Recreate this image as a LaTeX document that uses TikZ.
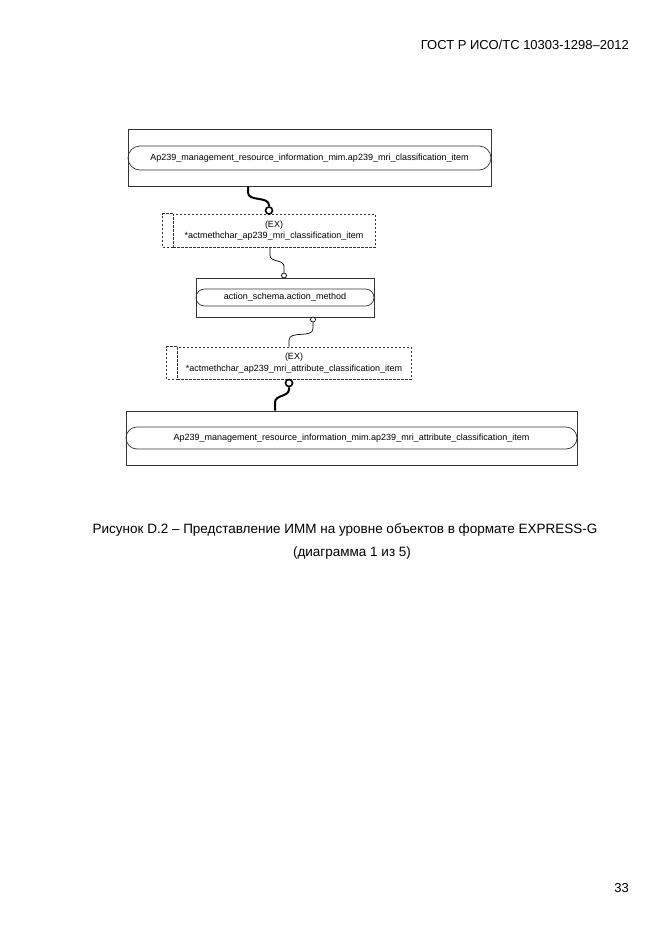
\documentclass[tikz,border=0pt]{standalone}
\usepackage{fontspec}
\setmainfont{Liberation Sans}
\usetikzlibrary{shapes.misc}
\tikzset{
    txt/.style = {inner sep=0pt, font=\fontsize{13}{15}\selectfont},
    ent_box/.style = {rectangle, draw=black!80, line width=0.8pt, inner sep=0pt},
    ent_pill/.style = {rounded rectangle, draw=black!80, line width=0.7pt, inner sep=0pt, font=\fontsize{9}{11}\selectfont},
    ref_line/.style = {draw=black!80, line width=0.7pt, dash pattern=on 2.5pt off 1.5pt},
    ref_box/.style = {rectangle, ref_line, align=center, inner sep=0pt, font=\fontsize{9}{11.5}\selectfont},
    thick_link/.style = {line width=2pt},
    thin_link/.style = {line width=0.7pt},
    big_ring/.style = {circle, draw, line width=1.6pt, inner sep=0pt, minimum size=7pt, fill=white},
    small_ring/.style = {circle, draw, line width=0.7pt, inner sep=0pt, minimum size=5pt, fill=white}
}
\begin{document}
\begin{tikzpicture}[x=1pt,y=-1pt]
    \useasboundingbox (0,0) rectangle (661,935);
    % page texts
    \node [txt, anchor=east] (head) at (629,45) {ГОСТ Р ИСО/ТС 10303-1298–2012};
    \node [txt, font=\fontsize{13.5}{15}\selectfont] (cap1) at (345,530) {Рисунок D.2 – Представление ИММ на уровне объектов в формате EXPRESS-G};
    \node [txt, font=\fontsize{13.5}{15}\selectfont] (cap2) at (352,553) {(диаграмма 1 из 5)};
    \node [txt, anchor=east] (page) at (629,888) {33};
    % entities
    \node [ent_box, minimum width=363pt, minimum height=57pt] (b1) at (309.5,157.5) {};
    \node [ent_pill, minimum width=363pt, minimum height=24pt] (p1) at (309.5,158)
        {Ap239\_management\_resource\_information\_mim.ap239\_mri\_classification\_item};
    \node [ent_box, minimum width=178pt, minimum height=39pt] (b2) at (285,297.5) {};
    \node [ent_pill, minimum width=178pt, minimum height=17pt] (p2) at (285,297.5)
        {action\_schema.action\_method};
    \node [ent_box, minimum width=451pt, minimum height=54pt] (b3) at (351.5,438) {};
    \node [ent_pill, minimum width=451pt, minimum height=22pt] (p3) at (351.5,438)
        {Ap239\_management\_resource\_information\_mim.ap239\_mri\_attribute\_classification\_item};
    % references
    \node [ref_box, minimum width=202pt, minimum height=33pt] (d1) at (274,230.5)
        {(EX)\\*actmethchar\_ap239\_mri\_classification\_item};
    \draw [ref_line] (d1.north west) -- ++(-10,0) |- (d1.south west);
    \node [ref_box, minimum width=234pt, minimum height=32pt] (d2) at (294,363)
        {(EX)\\*actmethchar\_ap239\_mri\_attribute\_classification\_item};
    \draw [ref_line] (d2.north west) -- ++(-10,0) |- (d2.south west);
    % rings
    \node [big_ring] (r1) at (269,210.5) {};
    \node [small_ring] (r2) at (284,275.5) {};
    \node [small_ring] (r3) at (313,319.5) {};
    \node [big_ring] (r4) at (289,383) {};
    % links
    \draw [thick_link] ([xshift=-61.5pt]b1.south) -- ++(0,6) to[out=-90,in=90] ++(21,13) -- (r1.north);
    \draw [thin_link] ([xshift=-4pt]d1.south) -- ++(0,8) to[out=-90,in=90] ++(14,11) -- (r2.north);
    \draw [thin_link] (r3.south) -- ++(0,6) to[out=-90,in=90] ++(-24,12) -- ([xshift=-5pt]d2.north);
    \draw [thick_link] (r4.south) -- ++(0,2) to[out=-90,in=90] ++(-14,13) -- ([xshift=-76.5pt]b3.north);
\end{tikzpicture}
\end{document}
